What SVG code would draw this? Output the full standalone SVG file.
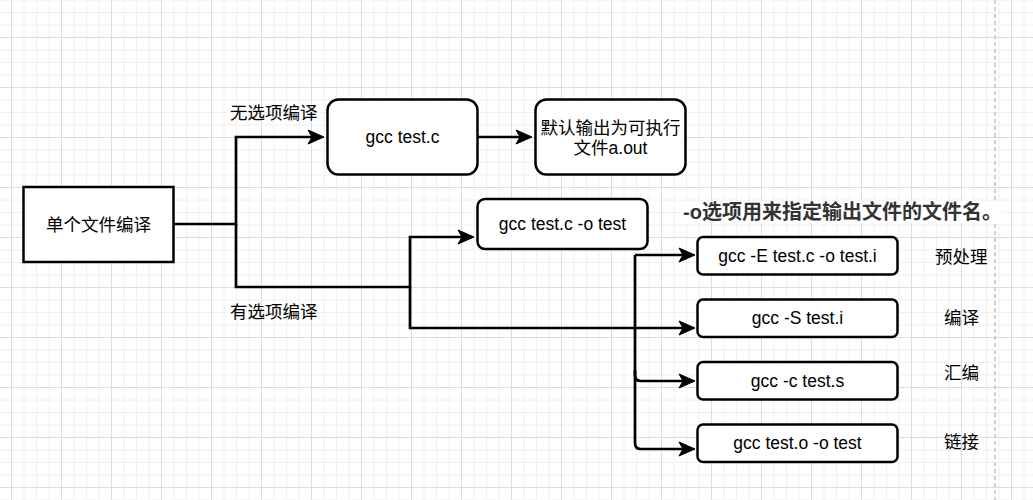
<svg xmlns="http://www.w3.org/2000/svg" width="1033" height="500" viewBox="0 0 1033 500">
<style>
.box{fill:#fff;stroke:#000;stroke-width:2.5}
.edge{fill:none;stroke:#000;stroke-width:2.7;stroke-linejoin:miter}
.t{font-family:"Liberation Sans","Noto Sans CJK SC",sans-serif;font-size:17.5px;fill:#000}
.c{text-anchor:middle}
.note{font-family:"Liberation Sans","Noto Sans CJK SC",sans-serif;font-size:20px;font-weight:bold;fill:#333}
</style>
<defs>
<pattern id="grid" patternUnits="userSpaceOnUse" x="11" y="37" width="50" height="50">
<path d="M13,0V50M25.5,0V50M38,0V50M0,13H50M0,25.5H50M0,38H50" stroke="#f0f0f0" stroke-width="1" fill="none"/>
<path d="M0.5,0V50M0,0.5H50" stroke="#dcdcdc" stroke-width="1" fill="none"/>
</pattern>
<marker id="arr" markerUnits="userSpaceOnUse" markerWidth="17" markerHeight="15" refX="4" refY="7" orient="auto" overflow="visible">
<path d="M16,7L0,0L4,7L0,14Z" fill="#000" stroke="#000" stroke-width="1"/>
</marker>
</defs>
<rect width="1033" height="500" fill="#fff"/>
<rect width="1033" height="500" fill="url(#grid)"/>
<line x1="995" y1="0" x2="995" y2="500" stroke="#cfcfcf" stroke-width="2" stroke-dasharray="4 3"/>

<g id="connectors">
<path class="edge" d="M174,224H236V137H312" marker-end="url(#arr)"/>
<path class="edge" d="M236,224V287H410V237H462" marker-end="url(#arr)"/>
<path class="edge" d="M410,287V328H683" marker-end="url(#arr)"/>
<path class="edge" d="M478,137H520" marker-end="url(#arr)"/>
<path class="edge" d="M635,255H683" marker-end="url(#arr)"/>
<path class="edge" d="M635,255V443Q635,449 641,449H683" marker-end="url(#arr)"/>
<path class="edge" d="M635,370V375Q635,381 641,381H683" marker-end="url(#arr)"/>
</g>

<g id="label-no-option"><text class="t" x="230" y="118.5">无选项编译</text></g>
<g id="label-with-option"><text class="t" x="230" y="317.5">有选项编译</text></g>

<g id="node-single">
<rect class="box" x="23.5" y="187" width="150" height="75"/>
<text class="t c" x="98.5" y="230.5">单个文件编译</text>
</g>
<g id="node-gcc-testc">
<rect class="box" x="327.5" y="99.5" width="150" height="75" rx="11" ry="11"/>
<text class="t c" x="402.5" y="143">gcc test.c</text>
</g>
<g id="node-aout">
<rect class="box" x="535.5" y="99.5" width="150" height="75" rx="11" ry="11"/>
<text class="t c" x="610.5" y="133.5">默认输出为可执行</text>
<text class="t c" x="610.5" y="153.5">文件a.out</text>
</g>
<g id="node-gcc-o">
<rect class="box" x="477.5" y="199" width="170" height="50" rx="7.5" ry="7.5"/>
<text class="t c" x="562.5" y="230">gcc test.c -o test</text>
</g>
<g id="note">
<rect x="680" y="201" width="322" height="22" fill="#fff"/>
<text class="note" x="683" y="219">-o选项用来指定输出文件的文件名。</text>
</g>
<g id="node-E">
<rect class="box" x="697.5" y="237" width="200" height="37.5" rx="5.6" ry="5.6"/>
<text class="t c" x="797.5" y="261.5">gcc -E test.c -o test.i</text>
</g>
<g id="node-S">
<rect class="box" x="697.5" y="299.5" width="200" height="37.5" rx="5.6" ry="5.6"/>
<text class="t c" x="797.5" y="324">gcc -S test.i</text>
</g>
<g id="node-c">
<rect class="box" x="697.5" y="362" width="200" height="37.5" rx="5.6" ry="5.6"/>
<text class="t c" x="797.5" y="386.5">gcc -c test.s</text>
</g>
<g id="node-link">
<rect class="box" x="697.5" y="424.5" width="200" height="37.5" rx="5.6" ry="5.6"/>
<text class="t c" x="797.5" y="449">gcc test.o -o test</text>
</g>
<g id="label-pre"><text class="t" x="935" y="262.5">预处理</text></g>
<g id="label-compile"><text class="t" x="944" y="323.5">编译</text></g>
<g id="label-asm"><text class="t" x="944" y="378.5">汇编</text></g>
<g id="label-link"><text class="t" x="944" y="447.5">链接</text></g>
</svg>
